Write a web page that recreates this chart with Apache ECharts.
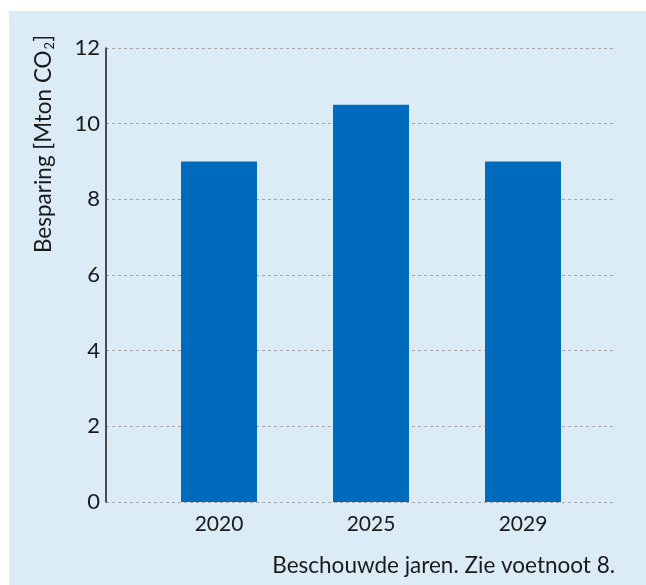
<!DOCTYPE html>
<html>
<head>
<meta charset="utf-8">
<script src="https://cdn.jsdelivr.net/npm/echarts@6/dist/echarts.min.js"></script>
<style>
html,body{margin:0;padding:0;background:#ffffff;}
#chart{width:646px;height:585px;}
</style>
</head>
<body>
<div id="chart"></div>
<script>
const categories = ['2020', '2025', '2029'];
const savings = [9, 10.5, 9];
const yTicks = { min: 0, max: 12, interval: 2 };
const yAxisTitle = 'Besparing [Mton CO{sub|2}]';
const xAxisTitle = 'Beschouwde jaren. Zie voetnoot 8.';

const FONT = 'Lato';
const TXT = '#1a1a1a';
const chart = echarts.init(document.getElementById('chart'));
chart.setOption({
  backgroundColor: '#ffffff',
  animation: false,
  textStyle: { fontFamily: FONT },
  graphic: [
    {
      type: 'rect', z: -10, silent: true,
      shape: { x: 9, y: 11, width: 637, height: 574 },
      style: { fill: '#dbecf6' }
    },
    {
      type: 'text', silent: true,
      x: 44, y: 144, rotation: Math.PI / 2,
      style: {
        text: yAxisTitle,
        fontFamily: FONT, fontSize: 22.5, fill: TXT,
        align: 'center', verticalAlign: 'middle',
        rich: { sub: { fontSize: 13, fill: TXT, fontFamily: FONT, padding: [11, 0, 0, 1] } }
      }
    }
  ],
  title: {
    text: xAxisTitle,
    right: 26, top: 549,
    textStyle: { fontFamily: FONT, fontWeight: 'normal', fontSize: 22.5, color: TXT }
  },
  grid: [
    { left: 106, right: 33, top: 48, bottom: 83 },
    { left: 143, right: 47, top: 48, bottom: 83 }
  ],
  xAxis: [
    { gridIndex: 0, type: 'value', show: false, min: 0, max: 1 },
    {
      gridIndex: 1, type: 'category', data: categories,
      axisLine: { show: false }, axisTick: { show: false },
      axisLabel: { fontSize: 21, color: TXT, margin: 12, fontFamily: FONT }
    }
  ],
  yAxis: [
    {
      gridIndex: 0, type: 'value', min: yTicks.min, max: yTicks.max, interval: yTicks.interval,
      axisLine: { show: true, lineStyle: { color: '#1a1a1a', width: 1.5 } },
      axisTick: { show: false },
      axisLabel: { fontSize: 22, color: TXT, margin: 6, fontFamily: FONT },
      splitLine: { show: true, lineStyle: { color: '#a6a6a6', type: [3, 3], width: 1 } }
    },
    { gridIndex: 1, type: 'value', min: yTicks.min, max: yTicks.max, show: false, splitLine: { show: false } }
  ],
  series: [{
    type: 'bar', xAxisIndex: 1, yAxisIndex: 1,
    data: savings, barWidth: 76,
    itemStyle: { color: '#006bbd' }
  }]
});
</script>
</body>
</html>
